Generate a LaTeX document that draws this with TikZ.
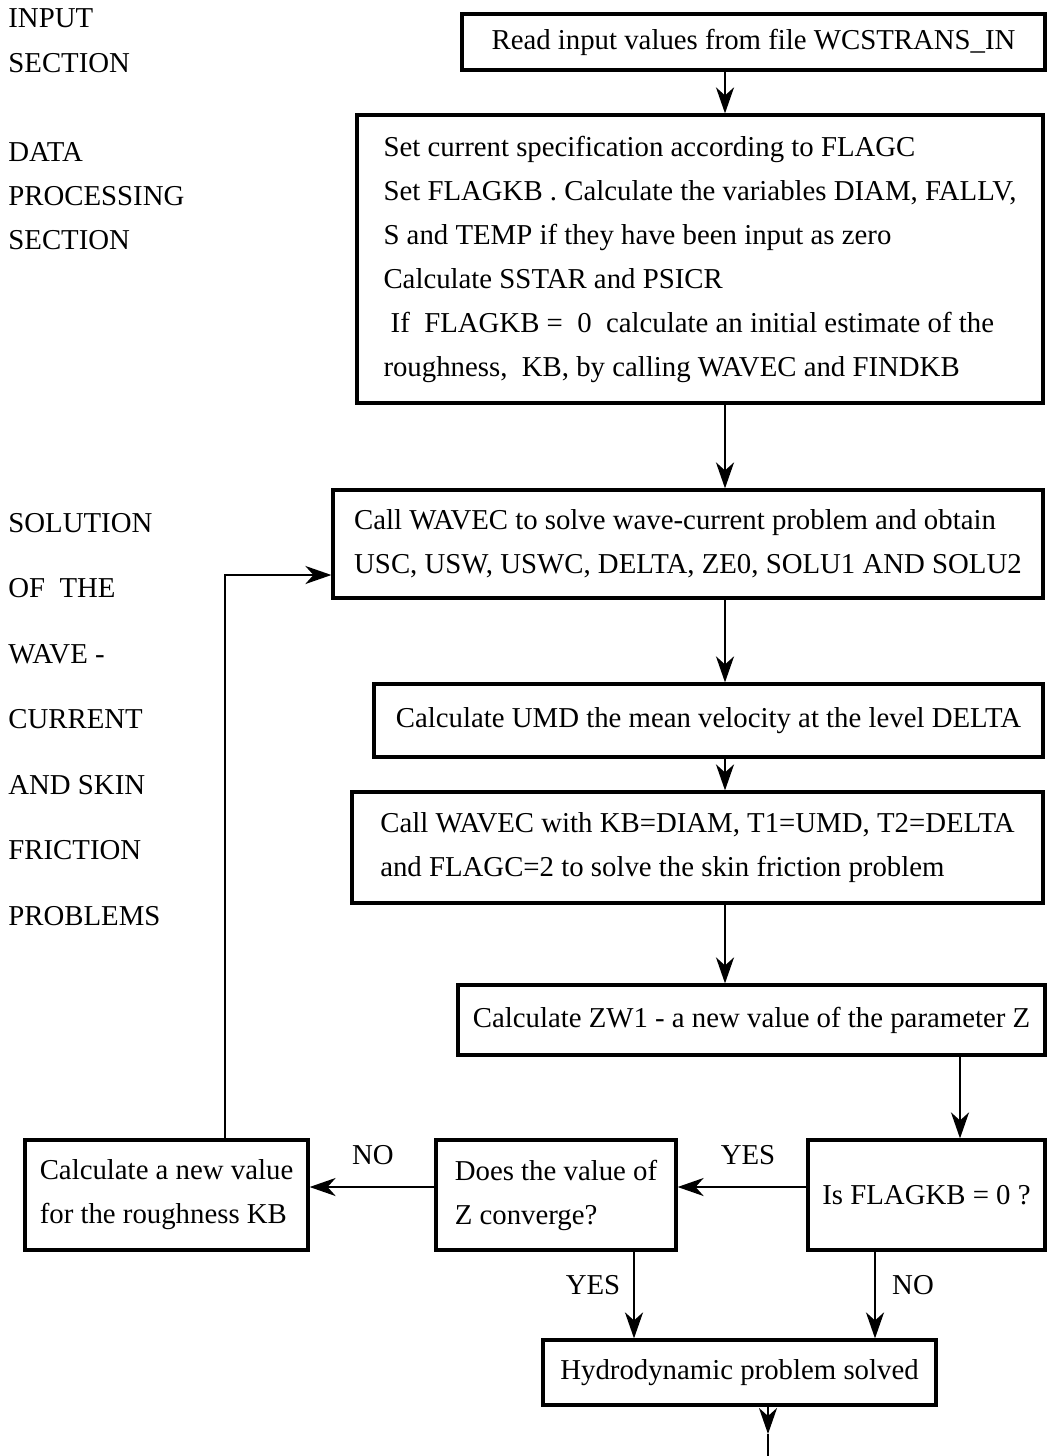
\documentclass[tikz,border=0pt]{standalone}
\usepackage{fontspec}
\setmainfont{Liberation Serif}
\usetikzlibrary{arrows.meta}

\begin{document}
\begin{tikzpicture}[x=0.5pt,y=-0.5pt,
  >={Stealth[length=13pt,width=9pt,inset=4pt]},
  every node/.style={font=\fontsize{14.4}{22}\selectfont},
  box/.style={draw, line width=1.6pt, align=left, inner sep=0pt},
  link/.style={->, line width=1.2pt},
  side/.style={anchor=west, align=left, inner sep=0pt}]
\useasboundingbox (0,0) rectangle (1053,1456);

% side labels %
\node[side, font=\fontsize{14.4}{22.5}\selectfont] (insec) at (8,40.5) {INPUT\\SECTION};
\node[side] (datasec) at (8,196) {DATA\\PROCESSING\\SECTION};
\node[side, font=\fontsize{14.4}{32.75}\selectfont] (solsec) at (8,719.5) {SOLUTION\\OF~ THE\\WAVE -\\CURRENT\\AND SKIN\\FRICTION\\PROBLEMS};

% nodes %
\node[box, minimum width=291.5pt, minimum height=28pt] (read) at (753.5,42) {Read input values from file WCSTRANS\_IN};
\node[box, minimum width=343pt, minimum height=144pt] (data) at (700,259) {Set current specification according to FLAGC\\Set FLAGKB . Calculate the variables DIAM, FALLV,\\S and TEMP if they have been input as zero\\Calculate SSTAR and PSICR\\\hspace*{0.25em}If~ FLAGKB = ~0~ calculate an initial estimate of the\\roughness,~ KB, by calling WAVEC and FINDKB};
\node[box, minimum width=355pt, minimum height=54pt] (wavec) at (688,544) {Call WAVEC to solve wave-current problem and obtain\\USC, USW, USWC, DELTA, ZE0, SOLU1 AND SOLU2};
\node[box, minimum width=334.5pt, minimum height=36.5pt] (umd) at (708.5,720.5) {Calculate UMD the mean velocity at the level DELTA};
\node[box, minimum width=345.5pt, minimum height=55.5pt] (skin) at (697.5,847.5) {Call WAVEC with KB=DIAM, T1=UMD, T2=DELTA\\and FLAGC=2 to solve the skin friction problem};
\node[box, minimum width=293.5pt, minimum height=35pt] (zw1) at (751.5,1020) {Calculate ZW1 - a new value of the parameter Z};
\node[box, minimum width=118.5pt, minimum height=55pt] (isflag) at (926.5,1195) {Is FLAGKB = 0 ?};
\node[box, minimum width=120pt, minimum height=55pt] (conv) at (556,1195) {Does the value of\\Z converge?};
\node[box, minimum width=141.5pt, minimum height=55pt] (newkb) at (166.5,1195) {Calculate a new value\\for the roughness KB};
\node[box, minimum width=196.5pt, minimum height=32.5pt] (solved) at (739.5,1372.5) {Hydrodynamic problem solved};

% branch labels %
\node (yes1) at (748,1155) {YES};
\node (no1) at (373,1155) {NO};
\node (yes2) at (593,1285) {YES};
\node (no2) at (913,1285) {NO};

% helper coordinates %
\coordinate (spine) at (725,0);
\coordinate (zcol) at (960,0);
\coordinate (row) at (0,1187);
\coordinate (loop) at (225,575);
\coordinate (yescol) at (634,0);
\coordinate (nocol) at (875,0);
\coordinate (exit) at (768,1434);

% edges %
\draw[link] (read.south -| spine) -- (data.north -| spine);
\draw[link] (data.south -| spine) -- (wavec.north -| spine);
\draw[link] (wavec.south -| spine) -- (umd.north -| spine);
\draw[link] (umd.south -| spine) -- (skin.north -| spine);
\draw[link] (skin.south -| spine) -- (zw1.north -| spine);
\draw[link] (zw1.south -| zcol) -- (isflag.north -| zcol);
\draw[link] (isflag.west |- row) -- (conv.east |- row);
\draw[link] (conv.west |- row) -- (newkb.east |- row);
\draw[link] (newkb.north -| loop) |- (wavec.west |- loop);
\draw[link] (conv.south -| yescol) -- (solved.north -| yescol);
\draw[link] (isflag.south -| nocol) -- (solved.north -| nocol);
\draw[link] (solved.south -| exit) -- (exit);
\draw[line width=1.2pt] (exit) -- ++(0,22);
\end{tikzpicture}
\end{document}
